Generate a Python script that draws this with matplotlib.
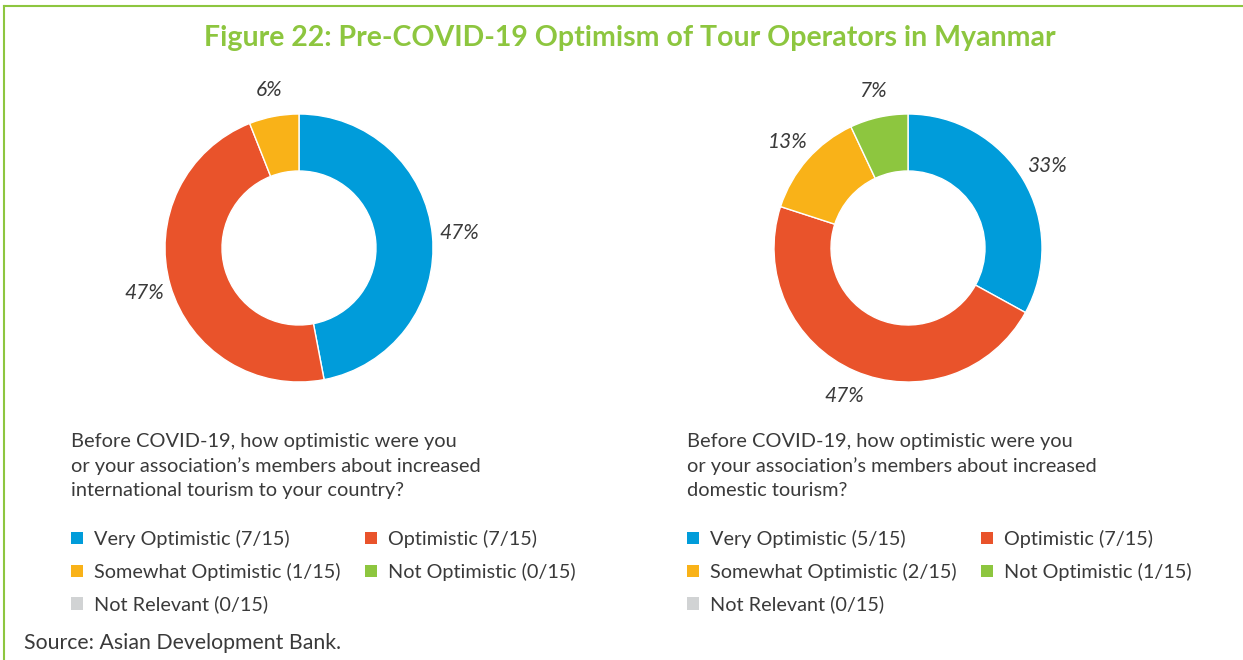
import matplotlib.pyplot as plt
from matplotlib.patches import Patch
from matplotlib.lines import Line2D

categories = ["Very Optimistic", "Optimistic", "Somewhat Optimistic",
              "Not Optimistic", "Not Relevant"]
colors = ["#009CDA", "#E9532B", "#F9B218", "#8DC63F", "#D1D3D4"]

# respondent counts out of 15 and the rounded shares shown on the rings
intl_counts = [7, 7, 1, 0, 0]
intl_pct = [47, 47, 6, 0, 0]
dom_counts = [5, 7, 2, 1, 0]
dom_pct = [33, 47, 13, 7, 0]
total = 15

title = "Figure 22: Pre-COVID-19 Optimism of Tour Operators in Myanmar"
intl_question = ("Before COVID-19, how optimistic were you\n"
                 "or your association\u2019s members about increased\n"
                 "international tourism to your country?")
dom_question = ("Before COVID-19, how optimistic were you\n"
                "or your association\u2019s members about increased\n"
                "domestic tourism?")
source = "Source: Asian Development Bank."

green = "#8DC63F"
text_col = "#3a3a3a"
plt.rcParams["font.family"] = ["Lato", "DejaVu Sans"]

W, H = 1243, 660
fig = plt.figure(figsize=(W / 100, H / 100), dpi=100)
ax = fig.add_axes([0, 0, 1, 1])
ax.set_xlim(0, W)
ax.set_ylim(0, H)
ax.set_aspect("equal")
ax.axis("off")


def donut(pct, cx, cy):
    vals = [p for p in pct if p > 0]
    cols = [colors[i] for i, p in enumerate(pct) if p > 0]
    wedges, texts = ax.pie(vals, colors=cols, startangle=90, counterclock=False,
                           center=(cx, cy), radius=134,
                           labels=[f"{v}%" for v in vals],
                           labeldistance=1.2,
                           wedgeprops=dict(width=57, edgecolor="white", linewidth=1),
                           textprops=dict(fontsize=15, style="italic", color=text_col))
    for t in texts:
        t.set_ha("center")
        t.set_va("center")


donut(intl_pct, 299, H - 248)
donut(dom_pct, 908, H - 248)
ax.set_xlim(0, W)
ax.set_ylim(0, H)

fig.text(630 / W, 1 - 38 / H, title, ha="center", va="center",
         fontsize=20.5, fontweight="bold", color=green)

fig.text(71 / W, 1 - 433 / H, intl_question, ha="left", va="top",
         fontsize=14.4, color=text_col, linespacing=1.5)
fig.text(687 / W, 1 - 433 / H, dom_question, ha="left", va="top",
         fontsize=14.4, color=text_col, linespacing=1.5)


def legend_for(counts, x):
    labels = [f"{c} ({n}/{total})" for c, n in zip(categories, counts)]
    handles = [Patch(facecolor=col, edgecolor="none") for col in colors]
    order = [0, 2, 4, 1, 3]
    fig.legend([handles[i] for i in order], [labels[i] for i in order],
               loc="upper left", bbox_to_anchor=(x / W, 1 - 530 / H),
               ncol=2, frameon=False, fontsize=14.3, labelcolor=text_col,
               handlelength=0.6, handleheight=0.6, handletextpad=0.55,
               columnspacing=1.25, labelspacing=0.74, borderpad=0, borderaxespad=0)


legend_for(intl_counts, 71)
legend_for(dom_counts, 687)

fig.text(24 / W, 1 - 643 / H, source, ha="left", va="center",
         fontsize=15.3, color=text_col)

# green frame along top and left edges
fig.add_artist(Line2D([4 / W, 1], [1 - 6 / H, 1 - 6 / H], color=green, lw=1.5))
fig.add_artist(Line2D([4 / W, 4 / W], [0, 1 - 6 / H], color=green, lw=1.5))

fig.savefig("out.png", dpi=100)
